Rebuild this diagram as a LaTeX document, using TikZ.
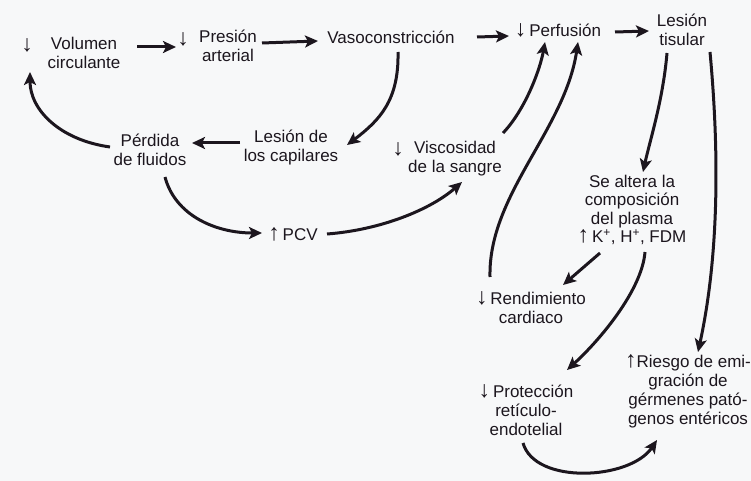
\documentclass[tikz,border=0pt]{standalone}
\usepackage{fontspec}
\setmainfont{Liberation Sans}
\usetikzlibrary{arrows.meta}
\definecolor{ink}{RGB}{28,22,30}
\definecolor{paper}{RGB}{247,248,249}
\newcommand{\arrdn}{{\fontsize{23}{19}\selectfont ↓}}
\newcommand{\arrup}{{\fontsize{23}{19}\selectfont ↑}}
\begin{document}
\begin{tikzpicture}[x=1pt,y=-1pt,
  lbl/.style={align=center,inner sep=0pt,text=ink,font=\fontsize{17}{19}\selectfont},
  arr/.style={draw=ink,line width=3pt,-{Stealth[length=13pt,width=12pt,inset=3pt]}}]
\fill[paper] (0,0) rectangle (751,481);
\useasboundingbox (0,0) rectangle (751,481);

% nodes
\node[lbl] (volar) at (27,45) {\arrdn};
\node[lbl] (vol) at (84,53) {Volumen\\circulante};
\node[lbl] (presar) at (183,39) {\arrdn};
\node[lbl] (pres) at (228,46) {Presión\\arterial};
\node[lbl] (vaso) at (391,37) {Vasoconstricción};
\node[lbl] (perf) at (558,30) {\arrdn\,Perfusión};
\node[lbl] (les) at (682,30) {Lesión\\tisular};
\node[lbl] (perd) at (150,150) {Pérdida\\de fluidos};
\node[lbl] (cap) at (291,148) {Lesión de\\los capilares};
\node[lbl] (viscar) at (398,149) {\arrdn};
\node[lbl] (visc) at (455,159) {Viscosidad\\de la sangre};
\node[lbl] (pcv) at (293,234) {\arrup\,PCV};
\node[lbl,font=\fontsize{17}{18.3}\selectfont] (alt) at (632,210) {Se altera la\\composición\\del plasma\\\arrup\,K\textsuperscript{+}, H\textsuperscript{+}, FDM};
\node[lbl] (rend) at (531,308) {\arrdn\,Rendimiento\\cardiaco};
\node[lbl] (prot) at (526,410) {\arrdn\,Protección\\retículo-\\endotelial};
\node[lbl] (ries) at (688,391) {\arrup Riesgo de emi-\\gración de\\gérmenes pató-\\genos entéricos};

% connectors
\draw[arr] ([shift={(53,-6)}]vol.center) -- ([shift={(-52,1)}]pres.center);
\draw[arr] ([shift={(34,-3)}]pres.center) -- ([shift={(-73,4)}]vaso.center);
\draw[arr] ([shift={(86,0)}]vaso.center) -- ([shift={(-49,6)}]perf.center);
\draw[arr] ([shift={(57,2)}]perf.center) -- ([shift={(-33,1)}]les.center);
\draw[arr] ([shift={(7,15)}]vaso.center) .. controls (399,100) and (380,120) .. ([shift={(56,-3)}]cap.center);
\draw[arr] ([shift={(-51,-5)}]cap.center) -- ([shift={(42,-7)}]perd.center);
\draw[arr] ([shift={(-40,-3)}]perd.center) .. controls (60,140) and (30,110) .. ([shift={(-54,19)}]vol.center);
\draw[arr] ([shift={(15,27)}]perd.center) .. controls (175,215) and (215,233) .. ([shift={(-31,-1)}]pcv.center);
\draw[arr] ([shift={(34,0)}]pcv.center) .. controls (380,230) and (430,210) .. ([shift={(7,23)}]visc.center);
\draw[arr] ([shift={(48,-26)}]visc.center) .. controls (525,110) and (540,70) .. ([shift={(-13,12)}]perf.center);
\draw[arr] ([shift={(-41,-31)}]rend.center) .. controls (488,195) and (565,130) .. ([shift={(20,12)}]perf.center);
\draw[arr] ([shift={(-15,23)}]les.center) .. controls (663,100) and (650,140) .. ([shift={(11,-38)}]alt.center);
\draw[arr] ([shift={(28,22)}]les.center) .. controls (720,160) and (718,260) .. ([shift={(10,-39)}]ries.center);
\draw[arr] ([shift={(-32,43)}]alt.center) -- ([shift={(32,-23)}]rend.center);
\draw[arr] ([shift={(13,42)}]alt.center) .. controls (642,290) and (600,340) .. ([shift={(41,-40)}]prot.center);
\draw[arr] ([shift={(-3,33)}]prot.center) .. controls (535,485) and (630,480) .. ([shift={(-31,49)}]ries.center);
\end{tikzpicture}
\end{document}
